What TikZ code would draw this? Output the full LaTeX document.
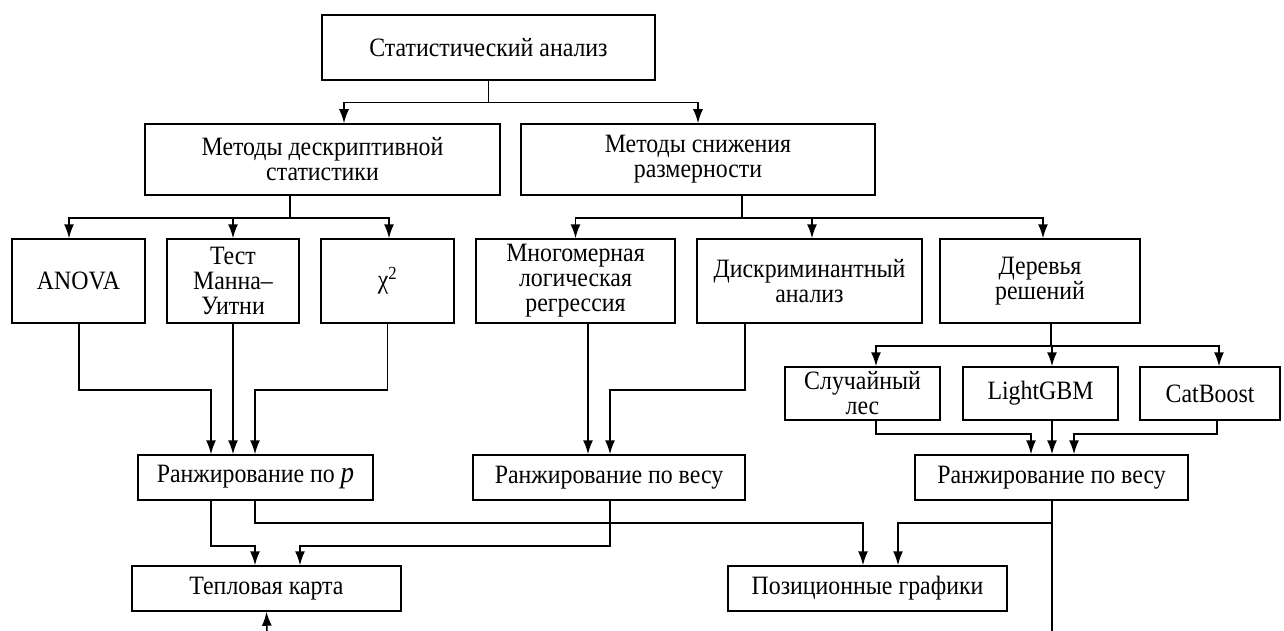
\documentclass[tikz,border=0pt]{standalone}
\usepackage{fontspec}
\setmainfont{Liberation Serif}[FakeStretch=0.9]
\usetikzlibrary{arrows.meta}
\begin{document}
\begin{tikzpicture}[x=1pt,y=-1pt,
  box/.style={draw,line width=1.5pt,inner sep=0pt,align=center,
    font=\fontsize{26.5}{25}\selectfont},
  ln/.style={line width=1.5pt},
  arr/.style={line width=1.5pt,-{Latex[length=14pt,width=10pt]}}]
\useasboundingbox (0,0) rectangle (1284,631);
% boxes
\node[box,minimum width=333pt,minimum height=65pt] (top) at (488.5,47.5) {Статистический анализ};
\node[box,minimum width=355pt,minimum height=71pt] (desc) at (322.5,159.5) {Методы дескриптивной\\статистики};
\node[box,minimum width=354pt,minimum height=71pt] (red) at (698,159.5) {Методы снижения\\размерности};
\node[box,minimum width=133pt,minimum height=84pt] (anova) at (78.5,281) {ANOVA};
\node[box,minimum width=132pt,minimum height=84pt] (mann) at (233,281) {Тест\\Манна–\\Уитни};
\node[box,minimum width=133pt,minimum height=84pt] (chi) at (387.5,281) {χ\textsuperscript{2}};
\node[box,minimum width=199pt,minimum height=84pt] (multi) at (575.5,281) {Многомерная\\логическая\\регрессия};
\node[box,minimum width=225pt,minimum height=84pt] (disc) at (809.5,281) {Дискриминантный\\анализ};
\node[box,minimum width=200pt,minimum height=84pt] (trees) at (1040,281) {Деревья\\решений};
\node[box,minimum width=155pt,minimum height=53pt] (rf) at (862.5,393.5) {Случайный\\лес};
\node[box,minimum width=155pt,minimum height=53pt] (lgbm) at (1040.5,393.5) {LightGBM};
\node[box,minimum width=140pt,minimum height=53pt] (cat) at (1210,393.5) {CatBoost};
\node[box,minimum width=235pt,minimum height=45pt] (rp) at (255.5,477.5) {Ранжирование по {\fontsize{30}{25}\selectfont\textit{p}}};
\node[box,minimum width=272pt,minimum height=45pt] (rw1) at (609,477.5) {Ранжирование по весу};
\node[box,minimum width=273pt,minimum height=45pt] (rw2) at (1051.5,477.5) {Ранжирование по весу};
\node[box,minimum width=269pt,minimum height=45pt] (heat) at (266.5,588.5) {Тепловая карта};
\node[box,minimum width=279pt,minimum height=45pt] (pos) at (867.5,588.5) {Позиционные графики};
% level 1
\draw[ln] (top.south) -- ++(0,22) coordinate (b0);
\draw[arr] (b0) -| ([xshift=21.5]desc.north);
\draw[arr] (b0) -| (red.north);
% level 2
\draw[ln] ([xshift=-32.5]desc.south) -- ++(0,22) coordinate (b1);
\draw[arr] (b1) -| ([xshift=-9.5]anova.north);
\draw[arr] (b1) -| (mann.north);
\draw[arr] (b1) -| ([xshift=1.5]chi.north);
\draw[ln] ([xshift=44]red.south) -- ++(0,22) coordinate (b2);
\draw[arr] (b2) -| (multi.north);
\draw[arr] (b2) -| ([xshift=2.5]disc.north);
\draw[arr] (b2) -| ([xshift=3]trees.north);
% trees
\draw[ln] ([xshift=11]trees.south) -- ++(0,22) coordinate (b3);
\draw[arr] (b3) -| ([xshift=13.5]rf.north);
\draw[arr] (b3) -| ([xshift=11.5]lgbm.north);
\draw[arr] (b3) -| ([xshift=9]cat.north);
% to rankings
\draw[arr] ([xshift=0.5]anova.south) -- ++(0,66) -| ([xshift=-44.5]rp.north);
\draw[arr] (mann.south) -- ([xshift=-22.5]rp.north);
\draw[arr] (chi.south) -- ++(0,66) -| ([xshift=-0.5]rp.north);
\draw[arr] ([xshift=12.5]multi.south) -- ([xshift=-21]rw1.north);
\draw[arr] ([xshift=-64.5]disc.south) -- ++(0,66) -| ([xshift=1]rw1.north);
\draw[arr] ([xshift=13.5]rf.south) -- ++(0,13) -| ([xshift=-20.5]rw2.north);
\draw[arr] ([xshift=11.5]lgbm.south) -- ([xshift=0.5]rw2.north);
\draw[arr] ([xshift=7]cat.south) -- ++(0,13) -| ([xshift=22.5]rw2.north);
% to outputs
\draw[arr] ([xshift=-44.5]rp.south) -- ++(0,45) -| ([xshift=-11.5]heat.north);
\draw[arr] ([xshift=-0.5]rp.south) -- ++(0,22) -| ([xshift=-4.5]pos.north);
\draw[arr] ([xshift=1]rw1.south) -- ++(0,45) -| ([xshift=33.5]heat.north);
\coordinate (e2) at (1052,631);
\draw[ln] ([xshift=0.5]rw2.south) -- (e2);
\draw[arr] ([xshift=0.5]rw2.south) -- ++(0,22) -| ([xshift=30.5]pos.north);
\coordinate (e1) at (267,631);
\draw[arr] (e1) -- (heat.south);
\end{tikzpicture}
\end{document}
